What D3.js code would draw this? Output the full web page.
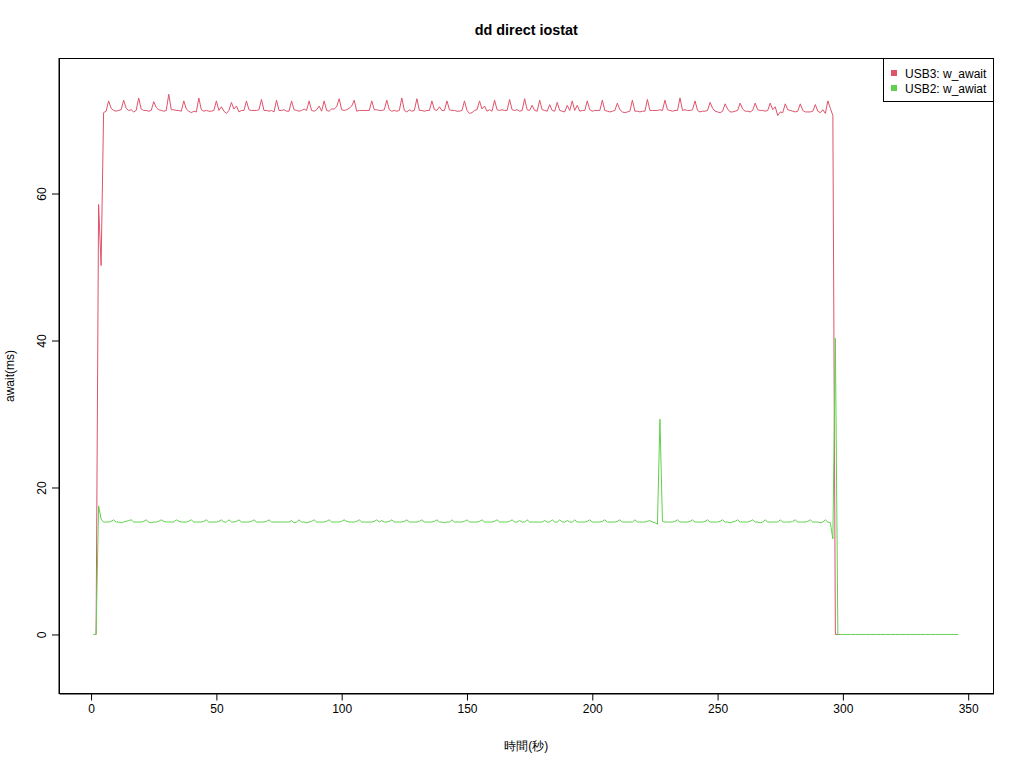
<!DOCTYPE html>
<html><head><meta charset="utf-8">
<script src="https://cdn.jsdelivr.net/npm/d3@7"></script>
<style>
html,body{margin:0;padding:0;background:#fff;}
text{font-family:"Liberation Sans",Arial,Helvetica,sans-serif;}
</style></head>
<body>
<svg id="chart" width="1024" height="768"></svg>
<script>
const chartTitle = "dd direct iostat";
const xLabel = "時間(秒)";
const yLabel = "await(ms)";
const seriesNames = ["USB3: w_await", "USB2: w_awiat"];
const seriesColors = ["#DF536B", "#61D04F"];
const xTicks = [0, 50, 100, 150, 200, 250, 300, 350];
const yTicks = [0, 20, 40, 60];

// USB3 w_await, one value per second starting at t = 1
const usb3Await = [
0, 0, 58.5, 50.2, 71.0, 71.2, 72.6, 71.6, 71.3, 71.2,
71.3, 71.4, 72.7, 71.6, 71.3, 71.4, 71.1, 71.3, 73.0, 71.5,
71.3, 71.3, 71.2, 71.3, 72.5, 71.7, 71.4, 71.3, 71.2, 71.3,
73.5, 71.4, 71.4, 71.3, 71.3, 71.2, 72.6, 71.5, 71.2, 71.0,
71.2, 71.1, 73.0, 71.4, 71.2, 71.3, 71.2, 71.2, 71.3, 72.6,
71.3, 71.8, 71.2, 70.9, 71.3, 72.4, 71.5, 71.9, 71.1, 71.3,
71.3, 72.6, 71.4, 71.3, 71.3, 71.3, 71.4, 72.8, 71.3, 71.3,
71.2, 71.3, 71.1, 72.7, 71.3, 71.3, 71.4, 71.2, 71.2, 72.6,
71.4, 71.3, 71.2, 71.3, 71.5, 71.3, 72.6, 71.3, 71.2, 71.4,
71.9, 71.2, 72.6, 71.3, 71.2, 71.5, 71.5, 71.8, 72.9, 71.4,
71.3, 71.4, 71.6, 71.9, 72.7, 71.2, 71.3, 71.3, 71.3, 71.3,
71.3, 72.6, 71.4, 71.4, 71.3, 71.3, 71.4, 72.7, 71.4, 71.2,
71.3, 71.2, 71.3, 73.0, 71.3, 71.1, 71.4, 71.2, 71.3, 72.9,
71.3, 71.3, 71.2, 71.3, 71.3, 72.6, 71.4, 71.3, 71.8, 71.3,
71.3, 72.6, 71.4, 71.3, 71.3, 71.2, 71.2, 71.3, 72.6, 71.3,
70.9, 71.0, 71.3, 71.4, 72.6, 71.5, 71.9, 71.2, 71.4, 71.2,
72.7, 71.4, 71.3, 71.4, 71.3, 71.3, 72.8, 71.4, 71.3, 71.4,
71.2, 71.3, 72.9, 71.4, 71.3, 72.0, 71.3, 71.2, 72.7, 71.4,
71.3, 71.2, 72.1, 71.3, 71.2, 72.4, 71.3, 71.2, 71.1, 72.0,
71.3, 72.6, 71.3, 72.0, 71.2, 71.3, 71.3, 72.6, 71.4, 71.2,
71.3, 71.3, 71.3, 72.7, 71.3, 71.2, 71.1, 71.2, 71.3, 72.3,
71.4, 71.1, 71.0, 71.1, 71.2, 72.7, 71.2, 71.2, 71.1, 71.2,
71.2, 72.8, 71.3, 71.3, 71.3, 71.3, 71.4, 71.3, 72.7, 71.4,
71.3, 71.2, 71.3, 71.3, 73.0, 71.3, 71.4, 71.3, 71.3, 71.4,
72.6, 71.3, 71.1, 71.2, 71.2, 71.3, 72.4, 71.6, 71.2, 71.1,
71.0, 71.2, 72.2, 71.5, 71.1, 71.1, 71.2, 71.3, 72.3, 71.5,
71.2, 71.2, 71.1, 71.3, 72.3, 71.4, 71.3, 71.3, 71.2, 71.3,
72.3, 71.4, 71.8, 70.6, 71.1, 71.0, 72.2, 71.4, 71.3, 71.2,
71.1, 71.2, 72.2, 71.3, 71.1, 71.1, 71.1, 71.2, 72.1, 71.2,
71.0, 71.4, 70.9, 72.6, 71.6, 70.6, 0, 0, 0
];

// USB2 w_awiat, one value per second starting at t = 1
const usb2Await = [
0, 0, 17.5, 15.7, 15.3, 15.3, 15.3, 15.4, 15.6, 15.3,
15.3, 15.2, 15.3, 15.4, 15.5, 15.6, 15.3, 15.3, 15.3, 15.3,
15.4, 15.6, 15.3, 15.2, 15.3, 15.3, 15.4, 15.6, 15.4, 15.3,
15.3, 15.3, 15.3, 15.6, 15.4, 15.3, 15.3, 15.3, 15.4, 15.6,
15.3, 15.3, 15.3, 15.3, 15.4, 15.6, 15.3, 15.3, 15.3, 15.3,
15.4, 15.6, 15.3, 15.3, 15.6, 15.3, 15.3, 15.4, 15.6, 15.3,
15.3, 15.3, 15.3, 15.4, 15.6, 15.3, 15.3, 15.3, 15.3, 15.4,
15.6, 15.3, 15.3, 15.3, 15.3, 15.3, 15.3, 15.3, 15.3, 15.5,
15.2, 15.3, 15.6, 15.3, 15.3, 15.2, 15.3, 15.4, 15.6, 15.3,
15.3, 15.3, 15.3, 15.4, 15.6, 15.3, 15.3, 15.3, 15.3, 15.4,
15.6, 15.4, 15.3, 15.3, 15.3, 15.4, 15.6, 15.3, 15.3, 15.3,
15.3, 15.3, 15.4, 15.6, 15.3, 15.5, 15.3, 15.3, 15.4, 15.6,
15.3, 15.3, 15.3, 15.3, 15.4, 15.6, 15.3, 15.3, 15.3, 15.3,
15.4, 15.6, 15.3, 15.3, 15.3, 15.3, 15.4, 15.6, 15.3, 15.3,
15.2, 15.3, 15.3, 15.6, 15.3, 15.3, 15.3, 15.3, 15.4, 15.6,
15.3, 15.3, 15.3, 15.3, 15.4, 15.6, 15.3, 15.3, 15.3, 15.3,
15.4, 15.6, 15.3, 15.3, 15.3, 15.3, 15.4, 15.6, 15.3, 15.3,
15.5, 15.3, 15.3, 15.6, 15.3, 15.3, 15.3, 15.3, 15.3, 15.3,
15.5, 15.3, 15.3, 15.6, 15.3, 15.3, 15.6, 15.3, 15.3, 15.5,
15.3, 15.3, 15.6, 15.3, 15.3, 15.3, 15.3, 15.4, 15.6, 15.3,
15.3, 15.3, 15.3, 15.4, 15.6, 15.3, 15.3, 15.3, 15.3, 15.4,
15.6, 15.3, 15.3, 15.3, 15.3, 15.3, 15.6, 15.3, 15.3, 15.3,
15.3, 15.4, 15.5, 15.3, 15.2, 15.0, 29.3, 15.4, 15.3, 15.3,
15.3, 15.3, 15.4, 15.6, 15.3, 15.3, 15.3, 15.3, 15.4, 15.6,
15.3, 15.3, 15.3, 15.3, 15.4, 15.6, 15.3, 15.3, 15.3, 15.3,
15.4, 15.6, 15.3, 15.3, 15.2, 15.3, 15.4, 15.6, 15.3, 15.3,
15.3, 15.3, 15.4, 15.6, 15.3, 15.3, 15.2, 15.3, 15.6, 15.3,
15.3, 15.3, 15.3, 15.3, 15.6, 15.3, 15.3, 15.3, 15.3, 15.4,
15.6, 15.3, 15.3, 15.3, 15.3, 15.4, 15.6, 15.3, 15.3, 15.3,
15.2, 15.3, 15.6, 15.3, 15.2, 13.0, 40.3, 0, 0, 0,
0, 0, 0, 0, 0, 0, 0, 0, 0, 0,
0, 0, 0, 0, 0, 0, 0, 0, 0, 0,
0, 0, 0, 0, 0, 0, 0, 0, 0, 0,
0, 0, 0, 0, 0, 0, 0, 0, 0, 0,
0, 0, 0, 0, 0, 0
];

const startSecond = 1;

const svg = d3.select("#chart");
const plot = {left: 59, right: 993.5, top: 58.5, bottom: 693.5};

const x = d3.scaleLinear().domain([-12.8, 360.1]).range([plot.left, plot.right]);
const y = d3.scaleLinear().domain([-8.03, 78.37]).range([plot.bottom, plot.top]);

const toPts = arr => arr.map((v, i) => [startSecond + i, v]);
const line = d3.line().x(d => x(d[0])).y(d => y(d[1]));

const g = svg.append("g");
const clipId = "clip";
svg.append("clipPath").attr("id", clipId).append("rect")
  .attr("x", plot.left).attr("y", plot.top)
  .attr("width", plot.right - plot.left).attr("height", plot.bottom - plot.top);

const lines = g.append("g").attr("clip-path", "url(#clip)");
lines.append("path").datum(toPts(usb3Await))
  .attr("d", line).attr("fill", "none").attr("stroke", seriesColors[0]).attr("stroke-width", 1);
lines.append("path").datum(toPts(usb2Await))
  .attr("d", line).attr("fill", "none").attr("stroke", seriesColors[1]).attr("stroke-width", 1);

// box
g.append("rect").attr("x", plot.left).attr("y", plot.top)
  .attr("width", plot.right - plot.left).attr("height", plot.bottom - plot.top)
  .attr("fill", "none").attr("stroke", "#000").attr("stroke-width", 1);

// x axis
const xAxis = d3.axisBottom(x).tickValues(xTicks).tickSize(7).tickPadding(4).tickSizeOuter(0);
const xa = g.append("g").attr("transform", `translate(0,${plot.bottom})`).call(xAxis);
xa.selectAll("text").attr("font-size", 12).attr("fill", "#000")
  .attr("font-family", '"Liberation Sans", Arial, sans-serif');
xa.selectAll("line").attr("stroke", "#000");
xa.select(".domain").attr("stroke", "#000");

// y axis
const yAxis = d3.axisLeft(y).tickValues(yTicks).tickSize(7).tickSizeOuter(0).tickFormat(d3.format("d"));
const ya = g.append("g").attr("transform", `translate(${plot.left},0)`).call(yAxis);
ya.selectAll("line").attr("stroke", "#000");
ya.select(".domain").attr("stroke", "#000");
ya.selectAll("text")
  .attr("font-size", 12).attr("fill", "#000")
  .attr("font-family", '"Liberation Sans", Arial, sans-serif')
  .attr("x", null).attr("dy", null)
  .attr("text-anchor", "middle")
  .attr("transform", d => `translate(-17,0) rotate(-90)`)
  .attr("y", 0).attr("dy", "0.35em");

// title and labels
svg.append("text").attr("x", (plot.left + plot.right) / 2).attr("y", 35)
  .attr("text-anchor", "middle").attr("font-size", 14.4).attr("font-weight", "bold")
  .text(chartTitle);
svg.append("text").attr("x", (plot.left + plot.right) / 2).attr("y", 750)
  .attr("text-anchor", "middle").attr("font-size", 12)
  .attr("font-family", '"Liberation Sans","Noto Sans CJK JP",sans-serif')
  .text(xLabel);
svg.append("text").attr("transform", `translate(14,${(plot.top + plot.bottom) / 2}) rotate(-90)`)
  .attr("text-anchor", "middle").attr("font-size", 12)
  .text(yLabel);

// legend
const leg = svg.append("g");
leg.append("rect").attr("x", 883.5).attr("y", 58.5).attr("width", 110).attr("height", 43)
  .attr("fill", "#fff").attr("stroke", "#000").attr("stroke-width", 1);
seriesNames.forEach((n, i) => {
  const cy = 73 + i * 15;
  leg.append("rect").attr("x", 891).attr("y", cy - 3).attr("width", 6).attr("height", 6)
    .attr("fill", seriesColors[i]);
  leg.append("text").attr("x", 905).attr("y", cy + 4.5).attr("font-size", 12).text(n);
});
</script>
</body></html>
